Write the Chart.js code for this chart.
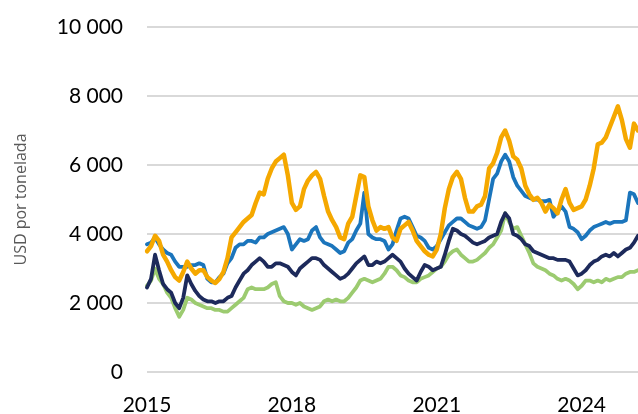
<!DOCTYPE html>
<html><head><meta charset="utf-8">
<script src="https://cdn.jsdelivr.net/npm/chart.js@4.4.1/dist/chart.umd.min.js"></script>
<style>html,body{margin:0;padding:0;background:#fff;}canvas{display:block;}</style>
</head><body>
<canvas id="c" width="638" height="414"></canvas>
<script>
// Categories: monthly observations Jan 2015 .. Mar 2025
const firstYear = 2015;
const monthCount = 123;
const months = [];
for (let i = 0; i < monthCount; i++) {
  months.push((firstYear + Math.floor(i / 12)) + '-' + String(i % 12 + 1).padStart(2, '0'));
}
const tickYears = ['2015', '2018', '2021', '2024'];
const yTicks = [0, 2000, 4000, 6000, 8000, 10000];
const yTitle = 'USD por tonelada';

// Series values (USD per tonne)
const seriesOrange = [
  3500,3650,3950,3800,3400,3200,2950,2750,2650,2900,3200,3000,
  2850,2950,2950,2750,2650,2580,2700,2900,3300,3900,4050,4200,
  4350,4450,4550,4900,5200,5150,5600,5900,6100,6200,6300,5700,
  4900,4700,4800,5300,5550,5700,5800,5600,5100,4650,4400,4200,
  3900,3850,4300,4500,5100,5700,5650,4800,4400,4100,4200,4150,
  4200,3900,3800,4150,4250,4350,4100,3800,3650,3500,3400,3350,
  3550,4000,4750,5300,5650,5800,5600,5050,4650,4650,4800,4850,
  5100,5900,6050,6350,6800,7000,6700,6250,6150,5900,5400,5150,
  4990,5050,4900,4650,4850,4750,4600,5000,5300,4900,4700,4750,
  4800,5000,5400,5900,6600,6650,6800,7100,7400,7700,7300,6750,
  6500,7200,7000
];
const seriesBlue = [
  3700,3750,3900,3700,3550,3450,3400,3200,3050,3050,3050,3100,
  3100,3150,3100,2700,2600,2600,2750,2850,3150,3300,3600,3700,
  3700,3800,3800,3750,3900,3900,4000,4050,4100,4150,4200,4000,
  3550,3700,3850,3800,3850,4100,4200,3900,3750,3700,3650,3550,
  3450,3500,3750,3850,4100,4300,5200,4000,3900,3850,3850,3800,
  3550,3700,4100,4450,4500,4450,4200,3950,3900,3800,3600,3550,
  3650,3850,4050,4250,4350,4450,4450,4350,4250,4200,4150,4200,
  4400,5000,5600,5750,6100,6300,6100,5650,5400,5250,5100,5050,
  5000,5000,4950,4950,4990,4500,4650,4800,4650,4200,4150,4050,
  3850,3950,4100,4200,4250,4300,4350,4300,4350,4350,4350,4400,
  5200,5150,4900
];
const seriesNavy = [
  2450,2700,3400,2950,2550,2400,2300,2000,1850,2150,2800,2550,
  2350,2200,2100,2050,2050,2000,2050,2050,2150,2200,2450,2650,
  2850,2950,3100,3200,3300,3200,3050,3050,3150,3150,3100,3050,
  2900,2800,3000,3100,3200,3300,3300,3250,3100,3000,2900,2800,
  2700,2750,2850,3000,3150,3250,3350,3100,3100,3200,3150,3200,
  3300,3400,3300,3200,3000,2850,2750,2650,2900,3100,3050,2950,
  3000,3050,3400,3800,4150,4100,4000,3950,3850,3750,3700,3750,
  3800,3900,3950,4000,4350,4600,4450,4000,3950,3850,3700,3650,
  3500,3450,3400,3350,3300,3300,3250,3250,3250,3200,3000,2800,
  2850,2950,3100,3200,3250,3350,3400,3350,3450,3350,3450,3550,
  3600,3750,3950
];
const seriesGreen = [
  2500,2650,3000,2700,2550,2300,2150,1850,1600,1800,2150,2100,
  2000,1950,1900,1850,1850,1800,1800,1750,1750,1850,1950,2050,
  2150,2400,2450,2400,2400,2400,2450,2550,2600,2200,2050,2000,
  2000,1950,2000,1900,1850,1800,1850,1900,2050,2100,2050,2100,
  2050,2050,2150,2300,2450,2650,2700,2650,2600,2650,2700,2850,
  3050,3050,2950,2800,2750,2650,2600,2600,2700,2750,2800,2900,
  3000,3050,3200,3400,3500,3550,3400,3300,3200,3200,3250,3350,
  3450,3600,3700,3900,4100,4600,4350,4150,4200,3950,3700,3450,
  3150,3050,3000,2950,2850,2800,2700,2650,2700,2650,2550,2400,
  2500,2650,2650,2600,2650,2600,2700,2650,2700,2750,2750,2850,
  2900,2900,2950
];

function fmtThousands(v) {
  return String(v).replace(/\B(?=(\d{3})+(?!\d))/g, ' ');
}
function lineDs(data, color, width) {
  return { data, borderColor: color, borderWidth: width, pointRadius: 0, pointHoverRadius: 0,
           tension: 0, fill: false, borderJoinStyle: 'round', borderCapStyle: 'round' };
}

new Chart(document.getElementById('c'), {
  type: 'line',
  data: {
    labels: months,
    datasets: [
      lineDs(seriesOrange, '#F5A800', 4.5),
      lineDs(seriesBlue, '#1B75BC', 3.8),
      lineDs(seriesNavy, '#1D2A5B', 3.8),
      lineDs(seriesGreen, '#9CCB70', 3.8)
    ]
  },
  options: {
    responsive: false,
    devicePixelRatio: 1,
    animation: false,
    events: [],
    layout: { padding: { top: 27, right: 0, bottom: 0, left: 0 } },
    plugins: { legend: { display: false }, tooltip: { enabled: false } },
    scales: {
      x: {
        type: 'category',
        offset: false,
        grid: { display: false, drawTicks: false },
        border: { display: false },
        ticks: {
          autoSkip: false, maxRotation: 0, minRotation: 0, padding: 21,
          color: '#000', font: { family: 'Lato', size: 21 },
          callback: function (v) {
            const l = this.getLabelForValue(v);
            return (l.endsWith('-01') && tickYears.includes(l.slice(0, 4))) ? l.slice(0, 4) : null;
          }
        },
        afterFit: (s) => { s.height = 42; s.paddingLeft = 0; s.paddingRight = 0; }
      },
      y: {
        min: 0, max: 10000,
        afterBuildTicks: (s) => { s.ticks = yTicks.map(v => ({ value: v })); },
        ticks: { padding: 24, color: '#000', font: { family: 'Lato', size: 21 }, callback: (v) => fmtThousands(v) },
        grid: { color: '#d9d9d9', lineWidth: 2, drawTicks: false },
        border: { display: false },
        title: { display: true, text: yTitle, color: '#595959', font: { family: 'Open Sans', size: 16 }, padding: { top: 12, bottom: 0 } },
        afterFit: (s) => { s.width = 147; s.paddingTop = 0; s.paddingBottom = 0; }
      }
    }
  }
});
</script>
</body></html>
